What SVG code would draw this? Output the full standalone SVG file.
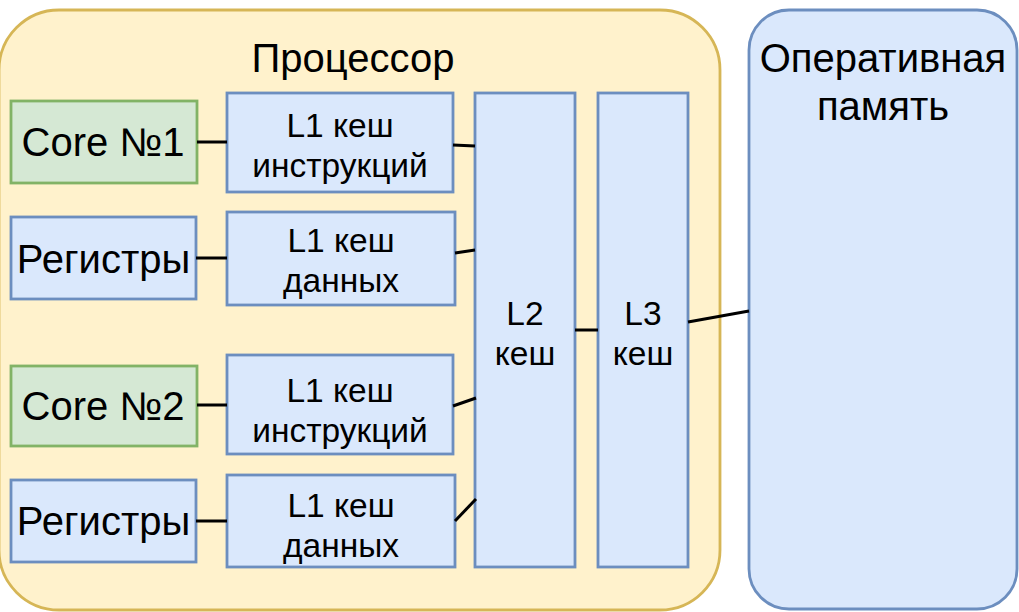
<svg xmlns="http://www.w3.org/2000/svg" width="1019" height="612" viewBox="0 0 1019 612">
<style>
text{font-family:"Liberation Sans",Arial,sans-serif;fill:#000;text-anchor:middle}
.big{font-size:40px}
.mid{font-size:33.5px}
.blue{fill:#dae8fc;stroke:#6c8ebf;stroke-width:2.8}
.green{fill:#d5e8d4;stroke:#82b366;stroke-width:2.8}
.cpu{fill:#fff2cc;stroke:#d6b656;stroke-width:2.8}
.conn line{stroke:#000;stroke-width:3;fill:none}
</style>
<g id="processor">
<rect class="cpu" x="-1" y="10" width="721" height="600" rx="60" ry="60"/>
<text class="big" x="353" y="72">Процессор</text>
</g>
<g id="memory">
<rect class="blue" x="749" y="10" width="268" height="599" rx="40" ry="40"/>
<text class="big" x="883" y="72">Оперативная</text>
<text class="big" x="883" y="120">память</text>
</g>
<g id="core1">
<rect class="green" x="11" y="101" width="186" height="82"/>
<text class="big" x="103" y="156">Core №1</text>
</g>
<g id="regs1">
<rect class="blue" x="11" y="217" width="185" height="82"/>
<text class="big" x="103.5" y="273">Регистры</text>
</g>
<g id="core2">
<rect class="green" x="11" y="366" width="186" height="80"/>
<text class="big" x="103" y="420">Core №2</text>
</g>
<g id="regs2">
<rect class="blue" x="11" y="480" width="185" height="82"/>
<text class="big" x="103.5" y="535">Регистры</text>
</g>
<g id="l1i1">
<rect class="blue" x="227" y="93" width="226" height="99"/>
<text class="mid" x="340" y="137">L1 кеш</text>
<text class="mid" x="340" y="177">инструкций</text>
</g>
<g id="l1d1">
<rect class="blue" x="227" y="212" width="228" height="93"/>
<text class="mid" x="341" y="252">L1 кеш</text>
<text class="mid" x="341" y="292">данных</text>
</g>
<g id="l1i2">
<rect class="blue" x="227" y="355" width="226" height="99"/>
<text class="mid" x="340" y="402">L1 кеш</text>
<text class="mid" x="340" y="442">инструкций</text>
</g>
<g id="l1d2">
<rect class="blue" x="227" y="475" width="228" height="92"/>
<text class="mid" x="341" y="517">L1 кеш</text>
<text class="mid" x="341" y="557">данных</text>
</g>
<g id="l2">
<rect class="blue" x="475" y="93" width="100" height="474"/>
<text class="mid" x="525" y="325">L2</text>
<text class="mid" x="525" y="365">кеш</text>
</g>
<g id="l3">
<rect class="blue" x="598" y="93" width="90" height="474"/>
<text class="mid" x="643" y="325">L3</text>
<text class="mid" x="643" y="365">кеш</text>
</g>
<g id="connectors" class="conn">
<line x1="197" y1="142" x2="227" y2="142"/>
<line x1="453" y1="145" x2="475" y2="146"/>
<line x1="196" y1="258" x2="227" y2="258"/>
<line x1="455" y1="253" x2="475" y2="250"/>
<line x1="197" y1="405" x2="227" y2="405"/>
<line x1="453" y1="406" x2="476" y2="398"/>
<line x1="196" y1="521" x2="227" y2="521"/>
<line x1="455" y1="521" x2="476" y2="499"/>
<line x1="575" y1="330" x2="598" y2="330"/>
<line x1="688" y1="322" x2="749" y2="311"/>
</g>
</svg>
